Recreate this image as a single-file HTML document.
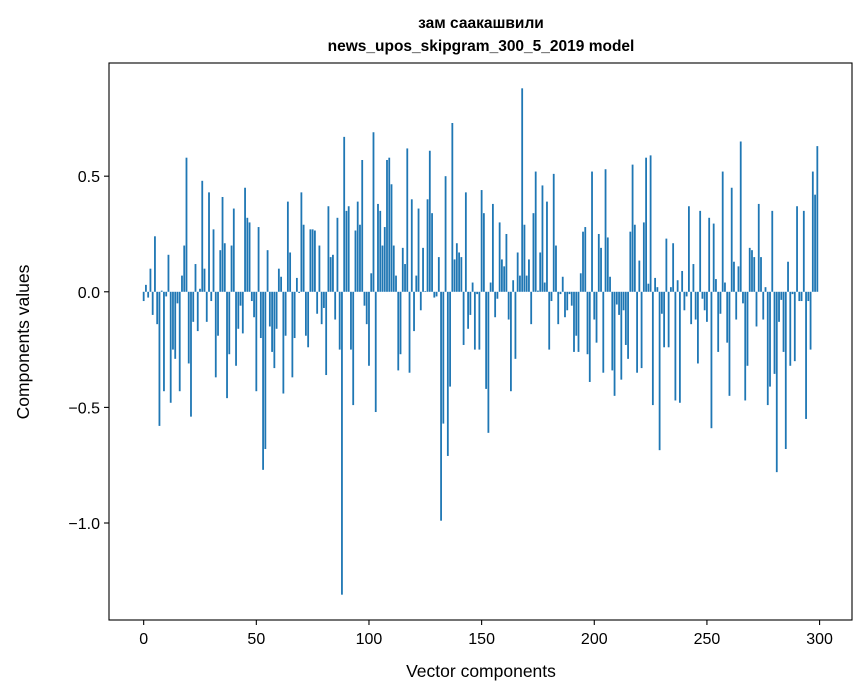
<!DOCTYPE html>
<html><head><meta charset="utf-8"><style>
html,body{margin:0;padding:0;background:#fff;}
svg{display:block;font-family:"Liberation Sans","DejaVu Sans",sans-serif;}
</style></head><body>
<svg id="chart" width="867" height="696" xmlns="http://www.w3.org/2000/svg">
<rect width="867" height="696" fill="#fff"/>
<text x="481" y="28" text-anchor="middle" font-size="15.5" font-weight="bold">зам саакашвили</text>
<text x="481" y="51" text-anchor="middle" font-size="15.5" font-weight="bold">news_upos_skipgram_300_5_2019 model</text>
<g id="bars"></g>
<g id="axes"></g>
<text x="481" y="677" text-anchor="middle" font-size="17.5">Vector components</text>
<text transform="translate(29,342) rotate(-90)" text-anchor="middle" font-size="17.5">Components values</text>
</svg>
<script>
const componentValues = [
-0.04,0.03,-0.025,0.10,-0.10,0.24,-0.14,-0.58,0.005,-0.43,
-0.02,0.16,-0.48,-0.25,-0.29,-0.05,-0.43,0.07,0.20,0.58,
-0.31,-0.54,-0.13,0.12,-0.17,0.013,0.48,0.10,-0.13,0.43,
-0.04,0.27,-0.37,-0.19,0.18,0.41,0.21,-0.46,-0.27,0.20,
0.36,-0.32,-0.16,-0.06,-0.18,0.45,0.32,0.30,-0.04,-0.11,
-0.43,0.28,-0.20,-0.77,-0.68,0.18,-0.15,-0.26,-0.33,-0.16,
0.10,0.065,-0.44,-0.19,0.39,0.17,-0.37,-0.20,0.06,-0.005,
0.43,0.29,-0.19,-0.24,0.27,0.27,0.265,-0.095,0.20,-0.14,
-0.07,-0.36,0.37,0.15,0.16,-0.12,0.32,-0.25,-1.31,0.67,
0.35,0.37,-0.25,-0.49,0.265,0.39,0.29,0.57,-0.06,-0.14,
-0.32,0.08,0.69,-0.52,0.38,0.35,0.20,0.28,0.57,0.58,
0.465,0.20,0.07,-0.34,-0.27,0.19,0.12,0.62,-0.35,0.40,
-0.17,0.07,0.36,-0.08,0.19,0.003,0.40,0.61,0.34,-0.025,
-0.02,0.15,-0.99,-0.57,0.50,-0.71,-0.41,0.73,0.14,0.21,
0.17,0.15,-0.23,0.43,-0.16,-0.10,0.04,-0.25,-0.01,-0.25,
0.44,0.34,-0.42,-0.61,0.04,0.38,-0.11,-0.03,0.30,0.14,
0.11,0.25,-0.12,-0.43,0.05,-0.29,0.17,0.07,0.88,0.29,
0.07,0.14,-0.14,0.34,0.52,0.005,0.17,0.46,0.04,0.39,
-0.25,-0.04,0.51,0.20,-0.14,-0.01,0.065,-0.11,-0.08,-0.01,
-0.06,-0.26,-0.19,-0.26,0.08,0.26,0.28,-0.27,-0.39,0.52,
-0.12,-0.22,0.25,0.19,-0.35,0.53,0.235,0.065,-0.34,-0.45,
-0.055,-0.10,-0.38,-0.08,-0.23,-0.29,0.26,0.55,0.29,-0.35,
0.135,-0.33,0.30,0.58,0.035,0.59,-0.49,0.06,0.02,-0.685,
-0.095,-0.24,0.23,-0.24,0.02,0.21,-0.47,0.05,-0.48,0.09,
-0.08,-0.02,0.37,-0.14,0.12,-0.12,-0.31,0.35,-0.03,-0.08,
-0.13,0.32,-0.59,0.295,0.055,-0.26,-0.095,0.52,0.04,-0.22,
-0.45,0.45,0.13,-0.12,0.11,0.65,-0.05,-0.47,-0.32,0.19,
0.18,0.15,-0.15,0.38,0.15,-0.12,0.02,-0.49,-0.41,0.35,
-0.355,-0.78,-0.13,-0.035,-0.26,-0.68,0.13,-0.32,-0.01,-0.30,
0.37,-0.04,-0.04,0.35,-0.55,-0.04,-0.25,0.52,0.42,0.63
];
const xTickValues = [0,50,100,150,200,250,300];
const xTickLabels = ["0","50","100","150","200","250","300"];
const yTickValues = [0.5,0,-0.5,-1.0];
const yTickLabels = ["0.5","0.0","\u22120.5","\u22121.0"];

const NS = "http://www.w3.org/2000/svg";
const L = 109, R = 852, T = 63, B = 620;
const n = componentValues.length;
const dmin = Math.min(0, ...componentValues), dmax = Math.max(0, ...componentValues);
const xr = (n - 1 + 0.8), xlo = -0.4 - 0.05 * xr, xhi = n - 1 + 0.4 + 0.05 * xr;
const yr = dmax - dmin, ylo = dmin - 0.05 * yr, yhi = dmax + 0.05 * yr;
function xScale(v) { return L + (v - xlo) / (xhi - xlo) * (R - L); }
function yScale(v) { return B - (v - ylo) / (yhi - ylo) * (B - T); }

const bars = document.getElementById('bars');
componentValues.forEach((v, i) => {
  const r = document.createElementNS(NS, 'rect');
  const x0 = xScale(i - 0.4), x1 = xScale(i + 0.4);
  const y0 = yScale(Math.max(v, 0)), y1 = yScale(Math.min(v, 0));
  r.setAttribute('x', x0);
  r.setAttribute('width', x1 - x0);
  r.setAttribute('y', y0);
  r.setAttribute('height', Math.max(y1 - y0, 0.3));
  r.setAttribute('fill', '#1f77b4');
  
  
  bars.appendChild(r);
});

const axes = document.getElementById('axes');
const frame = document.createElementNS(NS, 'rect');
frame.setAttribute('x', L); frame.setAttribute('y', T);
frame.setAttribute('width', R - L); frame.setAttribute('height', B - T);
frame.setAttribute('fill', 'none'); frame.setAttribute('stroke', '#000'); frame.setAttribute('stroke-width', '1.1');


axes.appendChild(frame);

xTickValues.forEach((v, i) => {
  const x = xScale(v);
  const t = document.createElementNS(NS, 'line');
  t.setAttribute('x1', x); t.setAttribute('x2', x); t.setAttribute('y1', B); t.setAttribute('y2', B + 5);
  t.setAttribute('stroke', '#000'); t.setAttribute('stroke-width', '1.1');
  
  
  axes.appendChild(t);
  const lb = document.createElementNS(NS, 'text');
  lb.setAttribute('x', x); lb.setAttribute('y', B + 24);
  lb.setAttribute('text-anchor', 'middle'); lb.setAttribute('font-size', '16');
  lb.textContent = xTickLabels[i];
  
  
  axes.appendChild(lb);
});
yTickValues.forEach((v, i) => {
  const y = yScale(v);
  const t = document.createElementNS(NS, 'line');
  t.setAttribute('x1', L - 5); t.setAttribute('x2', L); t.setAttribute('y1', y); t.setAttribute('y2', y);
  t.setAttribute('stroke', '#000'); t.setAttribute('stroke-width', '1.1');
  
  
  axes.appendChild(t);
  const lb = document.createElementNS(NS, 'text');
  lb.setAttribute('x', L - 9); lb.setAttribute('y', y + 6);
  lb.setAttribute('text-anchor', 'end'); lb.setAttribute('font-size', '16');
  lb.textContent = yTickLabels[i];
  
  
  axes.appendChild(lb);
});
</script>
</body></html>
